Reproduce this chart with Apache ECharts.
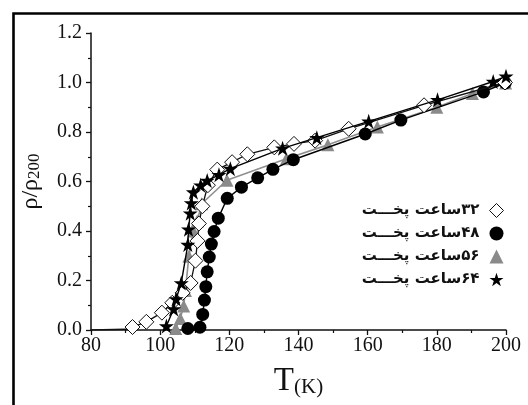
<!DOCTYPE html>
<html>
<head>
<meta charset="utf-8">
<script src="https://cdn.jsdelivr.net/npm/echarts@6/dist/echarts.min.js"></script>
<style>
html,body{margin:0;padding:0;background:#fff;}
#chart{width:528px;height:405px;}
</style>
</head>
<body>
<div id="chart"></div>
<script>
// ---- data (T in K, rho/rho200) ----
const seriesNames = ['\u200F۳۲ساعت پخـــت', '\u200F۴۸ساعت پخـــت', '\u200F۵۶ساعت پخـــت', '\u200F۶۴ساعت پخـــت'];

const t32 = [80, 90, 92, 96, 100.5, 103.5, 106.5, 108.8, 110.2, 110.8, 111.2, 112.2, 113.8, 116.5, 120.8, 125.2, 133, 138.7, 144.8, 154.5, 176.3, 199.7];
const v32 = [0, 0.003, 0.012, 0.033, 0.07, 0.11, 0.15, 0.19, 0.28, 0.36, 0.43, 0.5, 0.585, 0.648, 0.678, 0.71, 0.738, 0.752, 0.765, 0.813, 0.908, 1.0];

const t48 = [108, 111.5, 112.3, 112.8, 113.2, 113.6, 114.2, 114.8, 115.6, 116.8, 119.4, 123.5, 128.2, 132.6, 138.5, 159.3, 169.6, 193.5, 199.8];
const v48 = [0.006, 0.011, 0.063, 0.121, 0.175, 0.235, 0.295, 0.347, 0.398, 0.452, 0.532, 0.577, 0.615, 0.649, 0.688, 0.792, 0.848, 0.962, 0.998];

const t56 = [104.5, 105.8, 106.8, 107.3, 108.3, 109.6, 110.7, 112, 119.3, 136.5, 148.5, 162.8, 180, 190.3, 199.9];
const v56 = [0.006, 0.046, 0.097, 0.16, 0.298, 0.4, 0.44, 0.51, 0.605, 0.692, 0.748, 0.82, 0.9, 0.956, 0.998];

const t64 = [101.8, 103.9, 104.6, 106.1, 108, 108.2, 108.7, 109, 109.6, 111.7, 113.6, 117, 120.3, 135.4, 145.3, 160.3, 180.2, 196.3, 200];
const v64 = [0.016, 0.085, 0.125, 0.19, 0.345, 0.407, 0.472, 0.513, 0.557, 0.585, 0.604, 0.627, 0.652, 0.734, 0.777, 0.843, 0.93, 1.004, 1.025];

const xTicks = {min: 80, max: 200, interval: 20};
const yTicks = {min: 0, max: 1.2, interval: 0.2};

function pairs(t, v) { return t.map((x, i) => [x, v[i]]); }

const starPath = 'path://M50,0 L61.8,35.5 L99,35.5 L69,57.5 L80.5,93 L50,71 L19.5,93 L31,57.5 L1,35.5 L38.2,35.5 Z';

const d32 = pairs(t32, v32).map((p, i) => (t32[i] <= 90 ? {value: p, symbol: 'none'} : p));

const chart = echarts.init(document.getElementById('chart'), null, {renderer: 'canvas'});

const axisFont = 'Liberation Serif';

chart.setOption({
  backgroundColor: '#fff',
  animation: false,
  graphic: [{
    type: 'rect', left: 11, top: 11, z: 100, silent: true,
    shape: {x: 0, y: 0, width: 620, height: 520},
    style: {fill: 'none', stroke: '#000', lineWidth: 2.6}
  }],
  grid: {left: 91, right: 22, top: 33, bottom: 75, containLabel: false},
  xAxis: {
    type: 'value', min: xTicks.min, max: xTicks.max, interval: xTicks.interval,
    name: '{t|T}{k|(K)}', nameLocation: 'middle', nameGap: 32,
    nameTextStyle: {
      rich: {
        t: {fontFamily: axisFont, fontSize: 33, color: '#111', verticalAlign: 'bottom', lineHeight: 36},
        k: {fontFamily: axisFont, fontSize: 21, color: '#111', verticalAlign: 'bottom', lineHeight: 30}
      }
    },
    axisLine: {show: true, onZero: false, lineStyle: {color: '#111', width: 1.5}},
    axisTick: {show: true, inside: false, length: 5, lineStyle: {color: '#111', width: 1.3}},
    minorTick: {show: true, splitNumber: 2, length: 3, lineStyle: {color: '#111', width: 1.2}},
    axisLabel: {fontFamily: axisFont, fontSize: 20, color: '#111', margin: 6},
    splitLine: {show: false}
  },
  yAxis: {
    type: 'value', min: yTicks.min, max: yTicks.max, interval: yTicks.interval,
    name: '{a|ρ/ρ}{b|200}', nameLocation: 'middle', nameGap: 48, nameRotate: 90,
    nameTextStyle: {
      rich: {
        a: {fontFamily: axisFont, fontSize: 24, color: '#111', verticalAlign: 'bottom', lineHeight: 26},
        b: {fontFamily: axisFont, fontSize: 17, color: '#111', verticalAlign: 'bottom', lineHeight: 17}
      }
    },
    axisLine: {show: true, onZero: false, lineStyle: {color: '#111', width: 1.5}},
    axisTick: {show: true, inside: false, length: 5, lineStyle: {color: '#111', width: 1.3}},
    minorTick: {show: true, splitNumber: 2, length: 3, lineStyle: {color: '#111', width: 1.2}},
    axisLabel: {fontFamily: axisFont, fontSize: 20, color: '#111', margin: 9,
      formatter: v => v.toFixed(1)},
    splitLine: {show: false}
  },
  legend: {
    orient: 'vertical', right: 19, top: 198, align: 'right',
    itemGap: 8, itemWidth: 14, itemHeight: 14,
    textStyle: {fontFamily: 'DejaVu Sans', fontWeight: 'bold', fontSize: 15, color: '#111', padding: [0, 5, 0, 0]},
    data: [
      {name: seriesNames[0], icon: 'diamond', itemStyle: {color: '#fff', borderColor: '#111', borderWidth: 1}},
      {name: seriesNames[1], icon: 'circle', itemStyle: {color: '#000', borderWidth: 0}},
      {name: seriesNames[2], icon: 'triangle', itemStyle: {color: '#8a8a8a', borderWidth: 0}},
      {name: seriesNames[3], icon: starPath, itemStyle: {color: '#000', borderWidth: 0}}
    ]
  },
  series: [
    {
      name: seriesNames[2], type: 'line', data: pairs(t56, v56),
      symbol: 'triangle', symbolSize: 13,
      itemStyle: {color: '#8a8a8a'},
      lineStyle: {color: '#8f8f8f', width: 1.6}, z: 2
    },
    {
      name: seriesNames[1], type: 'line', data: pairs(t48, v48),
      symbol: 'circle', symbolSize: 13,
      itemStyle: {color: '#000'},
      lineStyle: {color: '#000', width: 1.4}, z: 3
    },
    {
      name: seriesNames[0], type: 'line', data: d32,
      symbol: 'diamond', symbolSize: 15, showAllSymbol: true,
      itemStyle: {color: '#fff', borderColor: '#111', borderWidth: 1},
      lineStyle: {color: '#111', width: 1.3}, z: 4
    },
    {
      name: seriesNames[3], type: 'line', data: pairs(t64, v64),
      symbol: starPath, symbolSize: 15,
      itemStyle: {color: '#000'},
      lineStyle: {color: '#000', width: 1.4}, z: 5
    }
  ]
});
</script>
</body>
</html>
